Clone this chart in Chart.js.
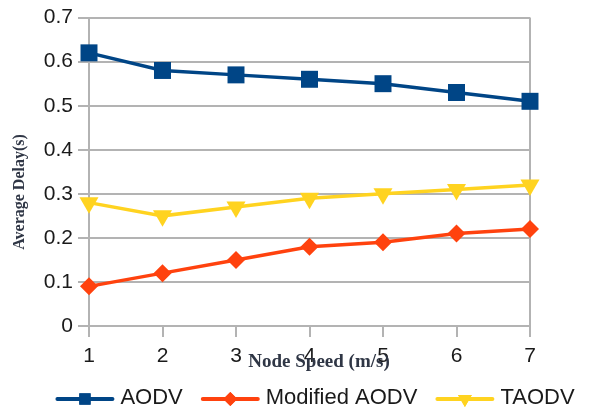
<!DOCTYPE html>
<html>
<head>
<meta charset="utf-8">
<script src="https://cdn.jsdelivr.net/npm/chart.js@4/dist/chart.umd.min.js"></script>
<style>
  html, body { margin: 0; padding: 0; background: #ffffff; }
  #wrap { width: 596px; height: 412px; position: relative; }
</style>
</head>
<body>
<div id="wrap"><canvas id="chart" width="596" height="412"></canvas></div>
<script>
// Node speed (m/s) on the x axis
const speeds = [1, 2, 3, 4, 5, 6, 7];

// Average delay (s) per protocol
const aodv = [0.62, 0.58, 0.57, 0.56, 0.55, 0.53, 0.51];
const modifiedAodv = [0.09, 0.12, 0.15, 0.18, 0.19, 0.21, 0.22];
const taodv = [0.28, 0.25, 0.27, 0.29, 0.30, 0.31, 0.32];

const seriesNames = ['AODV', 'Modified AODV', 'TAODV'];
const yTickLabels = ['0', '0.1', '0.2', '0.3', '0.4', '0.5', '0.6', '0.7'];
const xTitle = 'Node Speed (m/s)';
const yTitle = 'Average Delay(s)';

const GRID = '#b3b3b3';
const TEXT = '#1a1a1a';
const TITLE = '#2f3645';

function toXY(vals) {
  return vals.map((v, i) => ({ x: speeds[i], y: v }));
}

// Axis titles and a line-plus-marker legend drawn on the canvas
const decorations = {
  id: 'decorations',
  afterDraw(chart) {
    const ctx = chart.ctx;
    const area = chart.chartArea;
    ctx.save();

    // x axis title sits right under the tick labels
    ctx.fillStyle = TITLE;
    ctx.font = 'bold 19px "Liberation Serif", "DejaVu Serif", serif';
    ctx.textAlign = 'center';
    ctx.textBaseline = 'middle';
    ctx.fillText(xTitle, 319, 362);

    // y axis title, rotated
    ctx.save();
    ctx.translate(20, 192);
    ctx.rotate(-Math.PI / 2);
    ctx.font = 'bold 16px "Liberation Serif", "DejaVu Serif", serif';
    ctx.fillText(yTitle, 0, 0);
    ctx.restore();

    // legend
    const lineLen = 55, textGap = 8, itemGap = 20, y = 398;
    ctx.font = '22px "Liberation Sans", Arial, sans-serif';
    const items = chart.data.datasets.map(ds => ({
      ds, w: lineLen + textGap + ctx.measureText(ds.label).width
    }));
    const total = items.reduce((s, it) => s + it.w, 0) + itemGap * (items.length - 1);
    let x = 316 - total / 2;
    items.forEach(it => {
      const ds = it.ds;
      ctx.strokeStyle = ds.borderColor;
      ctx.lineWidth = 4;
      ctx.lineCap = 'round';
      ctx.beginPath();
      ctx.moveTo(x, y + 1);
      ctx.lineTo(x + lineLen, y + 1);
      ctx.stroke();
      ctx.fillStyle = ds.borderColor;
      Chart.helpers.drawPoint(ctx, {
        pointStyle: ds.pointStyle,
        radius: ds.legendRadius,
        rotation: ds.pointRotation || 0,
        borderWidth: 0
      }, x + lineLen / 2, y + 1);
      ctx.fill();
      ctx.fillStyle = TEXT;
      ctx.textAlign = 'left';
      ctx.textBaseline = 'middle';
      ctx.fillText(ds.label, x + lineLen + textGap, y);
      x += it.w + itemGap;
    });
    ctx.restore();
  }
};

new Chart(document.getElementById('chart'), {
  type: 'line',
  data: {
    datasets: [
      {
        label: seriesNames[0],
        data: toXY(aodv),
        borderColor: '#004586',
        backgroundColor: '#004586',
        borderWidth: 3.5,
        pointStyle: 'rect',
        pointRadius: 12,
        pointBorderWidth: 0,
        clip: false,
        legendRadius: 8
      },
      {
        label: seriesNames[1],
        data: toXY(modifiedAodv),
        borderColor: '#ff420e',
        backgroundColor: '#ff420e',
        borderWidth: 3.5,
        pointStyle: 'rectRot',
        pointRadius: 9,
        pointBorderWidth: 0,
        clip: false,
        legendRadius: 7
      },
      {
        label: seriesNames[2],
        data: toXY(taodv),
        borderColor: '#ffd320',
        backgroundColor: '#ffd320',
        borderWidth: 3.5,
        pointStyle: 'triangle',
        pointRotation: 180,
        pointRadius: 11,
        pointBorderWidth: 0,
        clip: false,
        legendRadius: 8
      }
    ]
  },
  options: {
    responsive: false,
    animation: false,
    layout: { padding: { left: 0, right: 66, top: 17, bottom: 0 } },
    plugins: {
      legend: { display: false },
      tooltip: { enabled: false }
    },
    elements: { line: { tension: 0 } },
    scales: {
      x: {
        type: 'linear',
        min: 1,
        max: 7,
        afterFit(scale) { scale.height = 86; },
        afterBuildTicks(scale) { scale.ticks = speeds.map(v => ({ value: v })); },
        ticks: {
          stepSize: 1,
          padding: 7,
          color: TEXT,
          font: { family: '"Liberation Sans", Arial, sans-serif', size: 21 },
          callback: (v) => String(v)
        },
        grid: {
          drawOnChartArea: true,
          color: (c) => (c.tick && c.tick.value === 7) ? GRID : 'rgba(0,0,0,0)',
          tickColor: GRID,
          tickLength: 11,
          lineWidth: 2
        },
        border: { display: true, color: GRID, width: 2 }
      },
      y: {
        min: 0,
        max: 0.7,
        afterFit(scale) { scale.width = 89; },
        afterBuildTicks(scale) { scale.ticks = yTickLabels.map(t => ({ value: parseFloat(t) })); },
        ticks: {
          padding: 5,
          color: TEXT,
          font: { family: '"Liberation Sans", Arial, sans-serif', size: 21 },
          callback: (v, i) => yTickLabels[i]
        },
        grid: {
          color: GRID,
          tickColor: GRID,
          tickLength: 11,
          lineWidth: 2
        },
        border: { display: true, color: GRID, width: 2 }
      }
    }
  },
  plugins: [decorations]
});
</script>
</body>
</html>
